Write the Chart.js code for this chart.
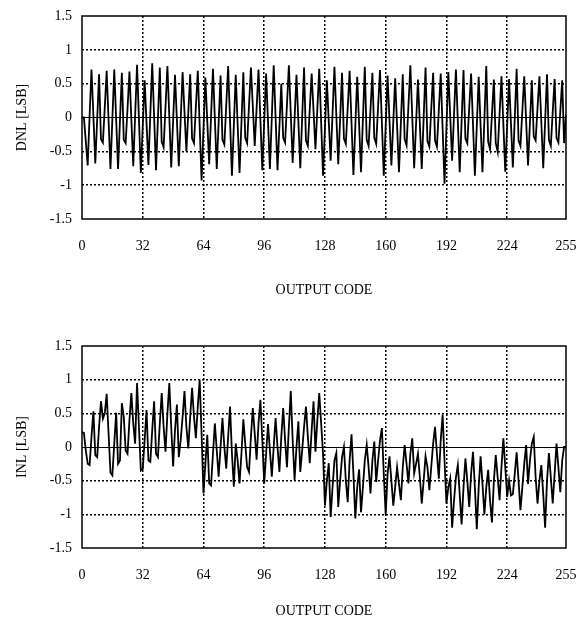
<!DOCTYPE html>
<html>
<head>
<meta charset="utf-8">
<script src="https://cdn.jsdelivr.net/npm/chart.js@4"></script>
<style>
  body { margin: 0; background: #fff; }
  .box { position: absolute; left: 0; width: 578px; }
  #top { top: 0; height: 311px; }
  #bottom { top: 330px; height: 292px; }
</style>
</head>
<body>
<div class="box" id="top"><canvas id="dnl"></canvas></div>
<div class="box" id="bottom"><canvas id="inl"></canvas></div>
<script>
const xTicks = [0, 32, 64, 96, 128, 160, 192, 224, 255]
const yTicks = [-1.5, -1, -0.5, 0, 0.5, 1, 1.5]
const yTickLabels = ["-1.5", "-1", "-0.5", "0", "0.5", "1", "1.5"]

const dnl = [
  0, 0, -0.35, -0.71, 0.02, 0.71, 0.03, -0.68,
  -0.03, 0.64, -0.32, -0.37, 0.15, 0.69, -0.04, -0.76,
  -0.02, 0.71, -0.03, -0.76, -0.05, 0.66, -0.33, -0.38,
  0.14, 0.68, -0.02, -0.72, 0.03, 0.78, -0.02, -0.82,
  -0.13, 0.55, -0.08, -0.7, 0.05, 0.8, 0.01, -0.78,
  -0.02, 0.74, -0.36, -0.44, 0.16, 0.76, 0.01, -0.74,
  -0.05, 0.63, -0.04, -0.72, -0.03, 0.67, 0.08, -0.5,
  0.07, 0.64, -0.31, -0.38, 0.16, 0.69, -0.12, -0.93,
  -0.17, 0.59, -0.05, -0.69, 0.02, 0.72, -0.02, -0.76,
  -0.07, 0.62, -0.33, -0.4, 0.18, 0.76, -0.05, -0.86,
  -0.12, 0.63, -0.1, -0.82, -0.08, 0.67, -0.3, -0.38,
  0.18, 0.74, 0.16, -0.42, 0.14, 0.71, -0.04, -0.78,
  -0.07, 0.65, -0.06, -0.76, 0.0, 0.77, 0.0, -0.78,
  -0.14, 0.5, -0.3, -0.37, 0.2, 0.77, 0.05, -0.67,
  -0.02, 0.63, -0.06, -0.75, 0.0, 0.74, -0.34, -0.42,
  0.12, 0.65, 0.09, -0.47, 0.13, 0.72, -0.07, -0.86,
  -0.16, 0.55, -0.05, -0.64, 0.06, 0.75, 0.03, -0.69,
  -0.02, 0.66, -0.31, -0.39, 0.15, 0.69, -0.08, -0.85,
  -0.13, 0.6, -0.1, -0.81, -0.03, 0.75, -0.33, -0.42,
  0.12, 0.66, -0.3, -0.39, 0.16, 0.7, -0.08, -0.86,
  -0.12, 0.62, -0.04, -0.71, -0.07, 0.58, -0.12, -0.81,
  -0.08, 0.64, -0.32, -0.41, 0.18, 0.77, 0.01, -0.75,
  -0.1, 0.56, -0.1, -0.76, -0.01, 0.74, -0.35, -0.43,
  0.12, 0.66, -0.34, -0.43, 0.11, 0.65, -0.17, -0.98,
  -0.16, 0.67, 0.02, -0.64, 0.04, 0.71, -0.05, -0.81,
  -0.06, 0.7, -0.31, -0.38, 0.14, 0.65, -0.1, -0.86,
  -0.13, 0.6, -0.11, -0.81, -0.03, 0.76, -0.36, -0.47,
  0.05, 0.56, -0.38, -0.51, 0.05, 0.61, -0.1, -0.8,
  -0.12, 0.57, -0.09, -0.74, -0.01, 0.72, -0.34, -0.42,
  0.1, 0.61, -0.05, -0.71, -0.08, 0.55, -0.28, -0.34,
  0.14, 0.61, -0.07, -0.75, -0.06, 0.64, -0.33, -0.42,
  0.08, 0.57, -0.3, -0.37, 0.09, 0.55, -0.38, 0.05
]

const inl = [
  0.22, 0.21, -0.05, -0.25, -0.27, 0.15, 0.53, -0.12,
  -0.15, 0.3, 0.68, 0.42, 0.5, 0.79, 0.2, -0.38,
  -0.42, 0.05, 0.51, -0.25, -0.2, 0.65, 0.45, -0.05,
  -0.1, 0.4, 0.8, 0.35, 0.05, 0.95, 0.3, -0.35,
  -0.33, 0.1, 0.55, -0.2, -0.22, 0.25, 0.68, -0.1,
  -0.15, 0.35, 0.8, 0.3, -0.07, 0.5, 0.95, 0.3,
  -0.29, 0.25, 0.63, -0.15, 0.1, 0.45, 0.83, 0.3,
  -0.02, 0.45, 0.88, 0.45, 0.13, 0.6, 1.0, 0.2,
  -0.69, -0.25, 0.18, -0.54, -0.57, -0.1, 0.35, -0.05,
  -0.44, 0.0, 0.43, 0.0, -0.32, 0.15, 0.6, -0.1,
  -0.59, 0.05, -0.2, -0.54, -0.1, 0.41, 0.05, -0.3,
  -0.37, 0.15, 0.58, 0.2, -0.19, 0.35, 0.7, 0.1,
  -0.54, -0.1, 0.34, -0.05, -0.44, 0.0, 0.43, 0.0,
  -0.37, 0.15, 0.58, 0.1, -0.3, 0.3, 0.83, 0.1,
  -0.49, 0.0, 0.38, -0.37, -0.05, 0.3, 0.6, 0.15,
  -0.24, 0.25, 0.68, -0.07, 0.4, 0.8, 0.35, -0.1,
  -0.87, -0.5, -0.24, -1.04, -0.6, -0.2, -0.09, -0.89,
  -0.5, -0.15, 0.0, -0.5, -0.82, -0.2, 0.19, -0.4,
  -1.06, -0.6, -0.33, -0.97, -0.6, -0.2, 0.03, -0.3,
  -0.69, -0.2, 0.08, -0.52, -0.2, 0.1, 0.28, -0.4,
  -1.01, -0.4, -0.14, -0.5, -0.87, -0.6, -0.3, -0.55,
  -0.79, -0.3, 0.03, -0.25, -0.54, -0.1, 0.13, -0.39,
  -0.25, -0.1, -0.45, -0.84, -0.5, -0.14, -0.3, -0.64,
  -0.3, 0.05, 0.3, -0.1, -0.47, 0.1, 0.48, -0.2,
  -0.84, -0.6, -0.47, -1.2, -0.8, -0.45, -0.27, -0.7,
  -1.15, -0.6, -0.17, -0.5, -0.89, -0.4, -0.07, -0.6,
  -1.22, -0.6, -0.14, -0.55, -1.0, -0.6, -0.34, -0.8,
  -1.12, -0.5, -0.12, -0.45, -0.79, -0.3, 0.13, -0.3,
  -0.74, -0.5, -0.72, -0.7, -0.4, -0.08, -0.5, -0.94,
  -0.6, -0.25, 0.03, -0.55, -0.2, 0.05, 0.15, -0.45,
  -0.84, -0.5, -0.27, -0.7, -1.2, -0.5, -0.09, -0.45,
  -0.84, -0.4, 0.05, -0.3, -0.67, -0.2, 0.0, 0.0
]

Chart.defaults.font.family = "'Liberation Serif', 'Times New Roman', serif"
Chart.defaults.font.size = 14
Chart.defaults.color = "#000"

// frame round the plot area
const framePlugin = {
  id: "frame",
  afterDatasetsDraw(chart) {
    const { ctx, chartArea: a } = chart
    ctx.save()
    ctx.strokeStyle = "#000"
    ctx.lineWidth = 1.5
    ctx.strokeRect(a.left, a.top, a.right - a.left, a.bottom - a.top)
    ctx.restore()
  }
}

function makeChart(id, values, yTitle, xHeight, titleGap) {
  const ctx = document.getElementById(id).getContext("2d")
  const points = values.map((v, i) => ({ x: i, y: v }))
  return new Chart(ctx, {
    type: "line",
    data: {
      datasets: [{
        data: points,
        borderColor: "#000",
        borderWidth: 1.8,
        pointRadius: 0,
        tension: 0
      }]
    },
    options: {
      responsive: true,
      maintainAspectRatio: false,
      animation: false,
      layout: { padding: { top: 16, right: 12, left: 0, bottom: 0 } },
      plugins: { legend: { display: false }, tooltip: { enabled: false } },
      scales: {
        x: {
          type: "linear",
          min: 0,
          max: 255,
          afterBuildTicks: s => { s.ticks = xTicks.map(v => ({ value: v })) },
          afterFit: s => {
            s.height = xHeight
            // keep the 255 label from shrinking the plot
            s.paddingLeft = 0
            s.paddingRight = 0
          },
          ticks: { padding: 19, maxRotation: 0, autoSkip: false },
          grid: {
            drawTicks: false,
            lineWidth: 1.5,
            color: c => (c.tick && (c.tick.value === 0 || c.tick.value === 255)) ? "rgba(0,0,0,0)" : "#000"
          },
          border: { display: false, dash: [2, 2] },
          title: { display: true, text: "OUTPUT CODE", padding: { top: 0, bottom: titleGap } }
        },
        y: {
          min: -1.5,
          max: 1.5,
          afterBuildTicks: s => { s.ticks = yTicks.map(v => ({ value: v })) },
          afterFit: s => {
            s.width = 82
            s.paddingTop = 0
            s.paddingBottom = 0
          },
          ticks: {
            padding: 10,
            callback: (v, i) => yTickLabels[i]
          },
          grid: {
            drawTicks: false,
            lineWidth: c => (c.tick && c.tick.value === 0) ? 1 : 1.5,
            color: c => (c.tick && Math.abs(c.tick.value) === 1.5) ? "rgba(0,0,0,0)" : "#000"
          },
          border: {
            display: false,
            dash: c => (c.tick && c.tick.value === 0) ? [] : [2, 2]
          },
          title: { display: true, text: yTitle, padding: { top: 14, bottom: 0 } }
        }
      }
    },
    plugins: [framePlugin]
  })
}

makeChart("dnl", dnl, "DNL [LSB]", 92, 12.6)
makeChart("inl", inl, "INL [LSB]", 74, 2.6)
</script>
</body>
</html>
